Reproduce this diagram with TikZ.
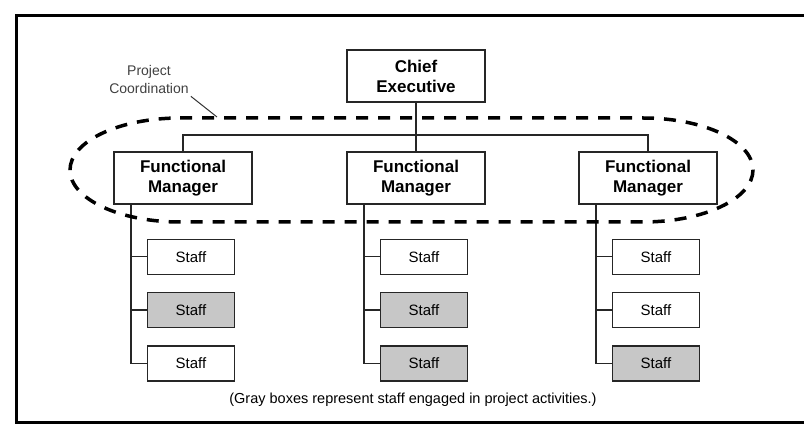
\documentclass[tikz,border=0pt]{standalone}
\usepackage{fontspec}
\setmainfont{Liberation Sans}
\usetikzlibrary{positioning}

\begin{document}
\begin{tikzpicture}[x=1pt,y=1pt,node distance=17pt,
    boss/.style={draw=black!85,line width=1.3pt,fill=white,minimum width=138pt,minimum height=52pt,align=center,font=\fontsize{17}{20}\selectfont\bfseries},
    staff/.style={draw=black!85,line width=1.3pt,fill=white,minimum width=87pt,minimum height=35pt,font=\fontsize{15}{17}\selectfont},
    busy/.style={staff,fill=black!22},
    link/.style={line width=1.4pt,black!85},
    coord/.style={line width=3.5pt,dash pattern=on 12pt off 10pt}]
  \useasboundingbox (0,0) rectangle (804,428);
  % frame, open on the right
  \draw[line width=3pt] (804,412) -- (16,412) -- (16,5) -- (804,5);
  % chief and the three managers
  \node[boss] (ce) at (416,352) {Chief\\Executive};
  \foreach \i/\x in {1/183,2/416,3/648}
    \node[boss] (fm\i) at (\x,250) {Functional\\Manager};
  \coordinate (bus) at (416,293);
  \draw[link] (ce) -- (fm2);
  \draw[link] (fm1.north) |- (bus) -| (fm3.north);
  % staff columns (busy = gray)
  \foreach \i/\ta/\tb/\tc in {1/staff/busy/staff,2/staff/busy/busy,3/staff/staff/busy}{
    \node[\ta,below=34pt of fm\i,xshift=8pt] (s\i1) {Staff};
    \node[\tb,below=of s\i1] (s\i2) {Staff};
    \node[\tc,below=of s\i2] (s\i3) {Staff};
    \coordinate (t\i) at ([xshift=-52pt]fm\i.south);
    \draw[link] (t\i) |- (s\i3);
    \draw[link] (s\i1) -- (s\i1 -| t\i);
    \draw[link] (s\i2) -- (s\i2 -| t\i);
  }
  % project coordination loop
  \draw[coord] (180,310) -- (643,310) arc[start angle=90,end angle=-90,x radius=110,y radius=52]
    -- (180,206) arc[start angle=270,end angle=90,x radius=110,y radius=52] -- cycle;
  \node[font=\fontsize{14}{18}\selectfont,text=black!75,align=center,inner sep=2pt] (pc) at (149,348) {Project\\Coordination};
  \coordinate (lead) at (217,311);
  \draw[line width=1pt,black!80] (pc.south east) -- (lead);
  \node[font=\fontsize{14.5}{17}\selectfont] (note) at (413,28) {(Gray boxes represent staff engaged in project activities.)};
\end{tikzpicture}
\end{document}
